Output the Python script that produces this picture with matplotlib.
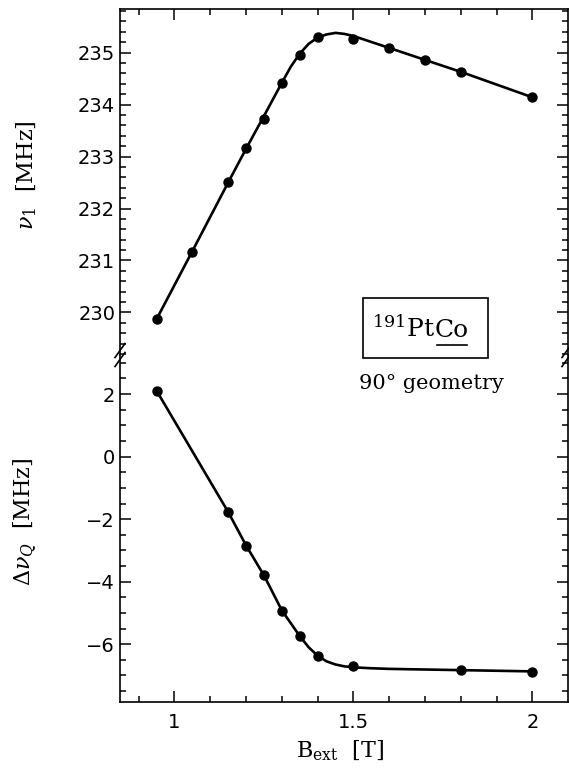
import matplotlib
matplotlib.use("Agg")
import matplotlib.pyplot as plt
from matplotlib.ticker import MultipleLocator
from matplotlib.lines import Line2D
from matplotlib.patches import Rectangle

# measured frequencies vs. external field
b_ext = [0.95, 1.05, 1.15, 1.20, 1.25, 1.30, 1.35, 1.40, 1.50, 1.60, 1.70, 1.80, 2.00]
nu1 = [229.87, 231.17, 232.51, 233.17, 233.72, 234.42, 234.96, 235.30, 235.26, 235.08, 234.86, 234.63, 234.14]

b_ext_q = [0.95, 1.15, 1.20, 1.25, 1.30, 1.35, 1.40, 1.50, 1.80, 2.00]
dnu_q = [2.11, -1.77, -2.86, -3.78, -4.93, -5.75, -6.39, -6.70, -6.83, -6.88]

# fitted curves
nu1_fit_b = [0.95, 1.05, 1.15, 1.20, 1.25, 1.30, 1.325, 1.35, 1.375, 1.40, 1.425,
             1.45, 1.475, 1.50, 1.60, 1.70, 1.80, 2.00]
nu1_fit = [229.87, 231.18, 232.50, 233.15, 233.78, 234.42, 234.73, 234.98, 235.17, 235.29,
           235.35, 235.38, 235.36, 235.32, 235.09, 234.86, 234.63, 234.14]

dnu_fit_b = [0.95, 1.15, 1.20, 1.25, 1.30, 1.35, 1.375, 1.40, 1.425, 1.45, 1.475,
             1.50, 1.55, 1.60, 1.80, 2.00]
dnu_fit = [2.11, -1.77, -2.84, -3.80, -4.92, -5.74, -6.10, -6.37, -6.55, -6.65, -6.71,
           -6.74, -6.77, -6.79, -6.83, -6.87]

plt.rcParams["font.family"] = "DejaVu Sans"
plt.rcParams["mathtext.fontset"] = "dejavuserif"

fig = plt.figure(figsize=(5.69, 7.74), dpi=100)
ax1 = fig.add_axes([0.211, 0.5413, 0.787, 0.4471])
ax2 = fig.add_axes([0.211, 0.0930, 0.787, 0.4483], sharex=ax1)

ax1.plot(nu1_fit_b, nu1_fit, color="black", lw=1.9, zorder=2)
ax1.plot(b_ext, nu1, "o", color="black", ms=6.5, zorder=3)
ax2.plot(dnu_fit_b, dnu_fit, color="black", lw=1.9, zorder=2)
ax2.plot(b_ext_q, dnu_q, "o", color="black", ms=6.5, zorder=3)

ax1.set_xlim(0.848, 2.099)
ax1.set_ylim(229.18, 235.84)
ax2.set_ylim(-7.85, 3.25)

ax1.spines["bottom"].set_visible(False)
ax2.spines["top"].set_visible(False)

for ax in (ax1, ax2):
    for sp in ax.spines.values():
        sp.set_linewidth(1.2)
    ax.xaxis.set_major_locator(MultipleLocator(0.5))
    ax.xaxis.set_minor_locator(MultipleLocator(0.1))
    ax.tick_params(which="both", direction="in", width=1.1, labelsize=14,
                   left=True, right=True)
    ax.tick_params(which="major", length=8)
    ax.tick_params(which="minor", length=4)

ax1.yaxis.set_major_locator(MultipleLocator(1))
ax1.yaxis.set_minor_locator(MultipleLocator(0.2))
ax1.tick_params(which="both", bottom=False, top=True, labelbottom=False)

ax2.yaxis.set_major_locator(MultipleLocator(2))
ax2.yaxis.set_minor_locator(MultipleLocator(0.5))
ax2.tick_params(which="both", bottom=True, top=False)
ax2.xaxis.set_major_formatter(plt.FuncFormatter(lambda v, p: f"{v:g}"))
ax2.yaxis.set_major_formatter(plt.FuncFormatter(lambda v, p: f"{v:g}".replace("-", "\u2212")))
ax2.tick_params(axis="x", pad=8)

lab = dict(fontsize=16, family="DejaVu Serif")
ax1.set_ylabel(r"$\nu_1$  [MHz]", **lab)
ax2.set_ylabel(r"$\Delta\nu_Q$  [MHz]", **lab)
ax2.set_xlabel(r"B$_{\rm ext}$  [T]", **lab)
ax1.yaxis.set_label_coords(-0.18, 0.52)
ax2.yaxis.set_label_coords(-0.18, 0.52)
ax2.xaxis.set_label_coords(0.49, -0.105)

# axis break marks on both sides
W, H = 569.0, 774.0
for xb in (120.0, 567.0):
    for dy in (-4.5, 4.5):
        y0 = 355.0 + dy
        fig.add_artist(Line2D([(xb - 5) / W, (xb + 5) / W],
                              [1 - (y0 + 7) / H, 1 - (y0 - 7) / H],
                              color="black", lw=1.2, transform=fig.transFigure))

# sample label box
fig.add_artist(Rectangle((363 / W, 1 - 358 / H), 125 / W, 60 / H, fill=False,
                         edgecolor="black", lw=1.2, transform=fig.transFigure))
t1 = fig.text(372 / W, 1 - 337 / H, r"$^{191}$Pt", fontsize=18,
              family="DejaVu Serif", va="baseline")
t2 = ax1.annotate("Co", xy=(1, 0), xycoords=t1, fontsize=18,
                  family="DejaVu Serif", va="bottom", annotation_clip=False)
fig.text(431 / W, 1 - 383 / H, "90° geometry", fontsize=15,
         family="DejaVu Serif", ha="center", va="center")

fig.canvas.draw()
bb = t2.get_window_extent().transformed(fig.transFigure.inverted())
fig.add_artist(Line2D([bb.x0 + 0.003, bb.x1 - 0.003], [bb.y0 - 0.004, bb.y0 - 0.004],
                      color="black", lw=1.2, transform=fig.transFigure))

fig.savefig("out.png", dpi=100)
